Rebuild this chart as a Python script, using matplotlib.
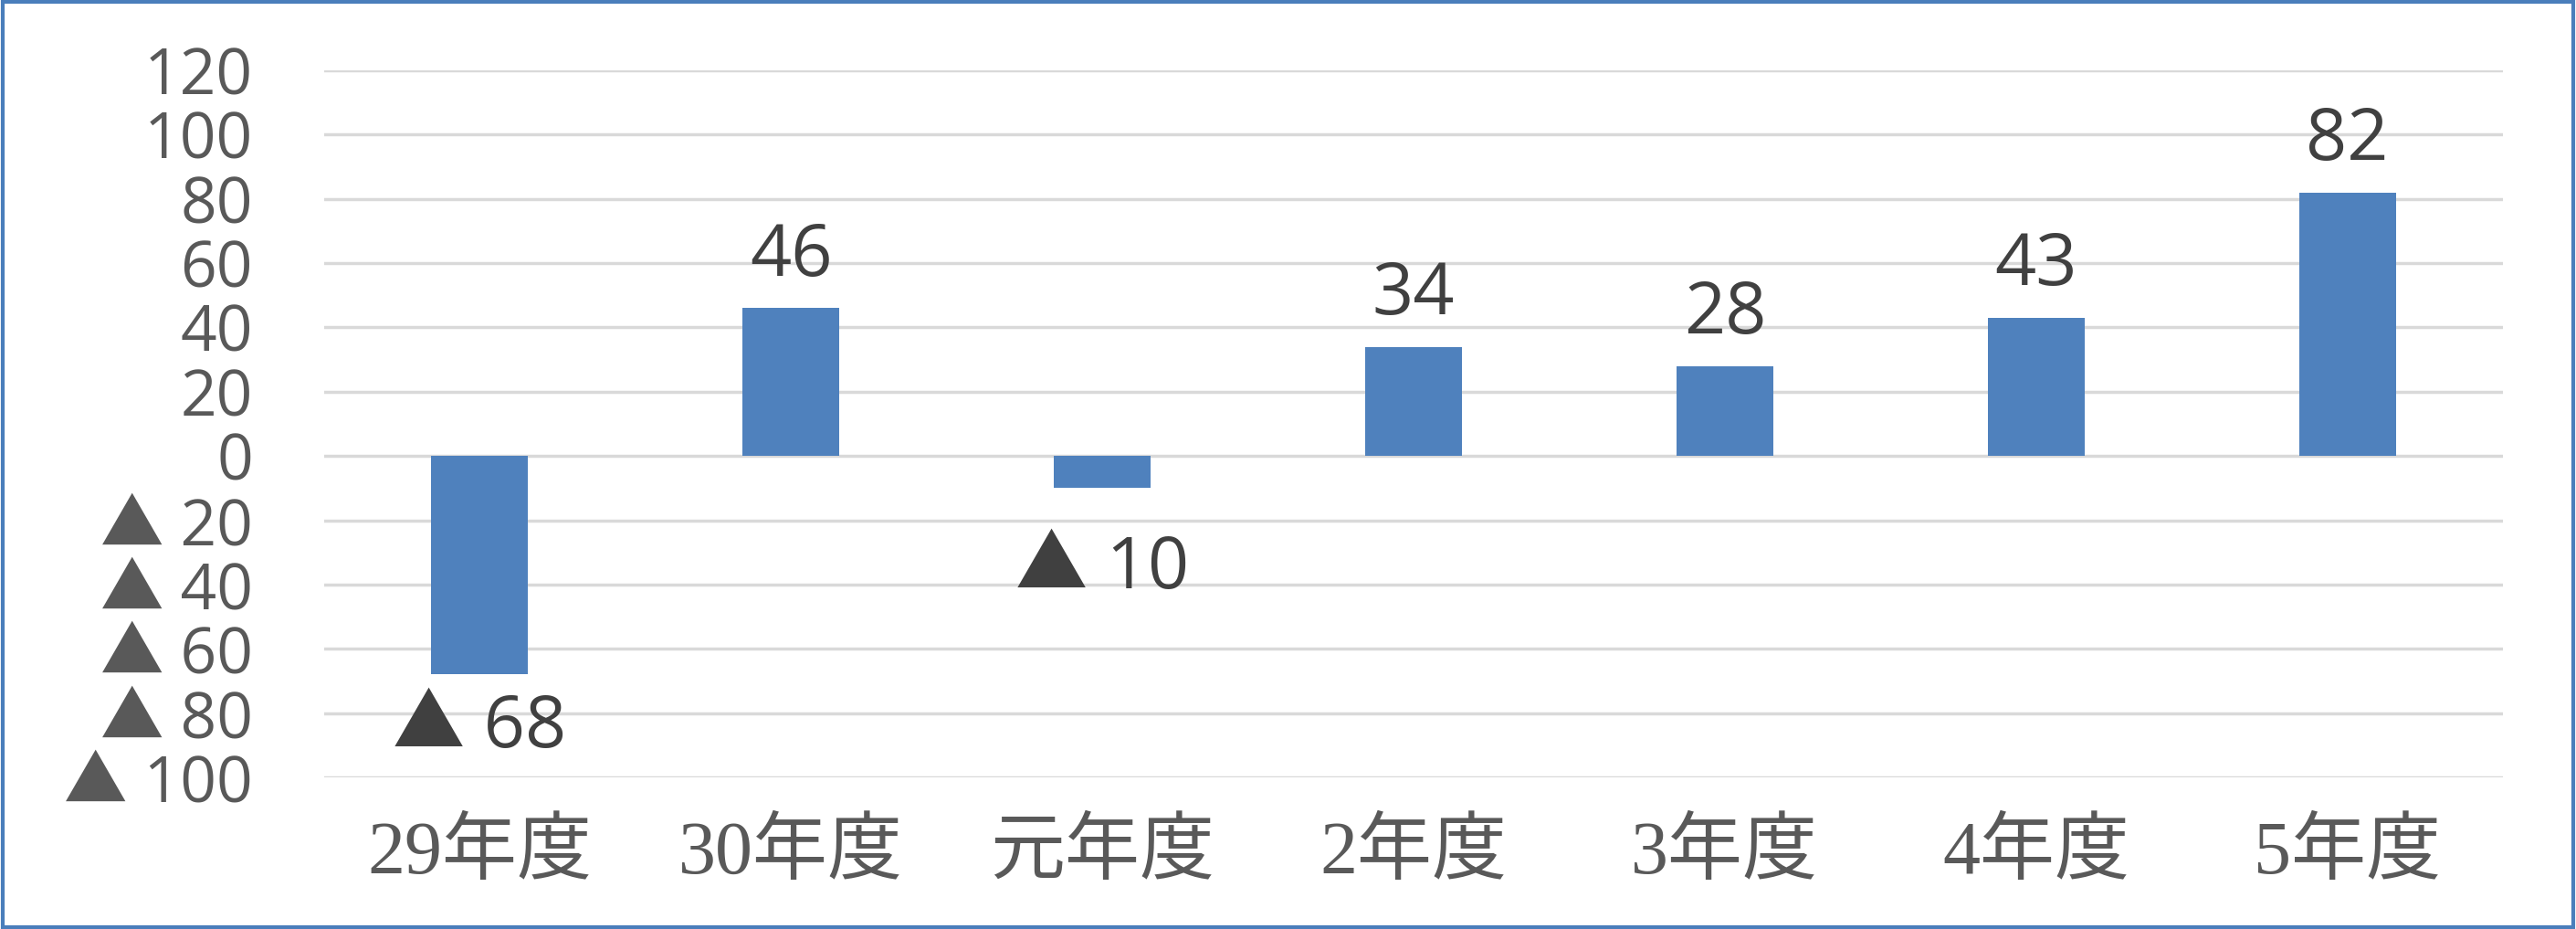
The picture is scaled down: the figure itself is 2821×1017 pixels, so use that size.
import matplotlib
matplotlib.use("Agg")
import matplotlib.pyplot as plt
from matplotlib.ticker import FuncFormatter, MultipleLocator
from matplotlib.patches import Rectangle

# --- data ---------------------------------------------------------------------------------------
years = ["29年度", "30年度", "元年度", "2年度", "3年度", "4年度", "5年度"]
values = [-68, 46, -10, 34, 28, 43, 82]

BAR_COLOUR = "#4f81bd"
TEXT_GREY = "#595959"
LABEL_DARK = "#404040"
NUM_FONT = ["Open Sans", "Noto Sans CJK JP"]   # wide triangle comes from the CJK font
LABEL_OFFSETS = [-14, 12, -36, 12, 12, 12, 12]  # points, data label gap from bar end


def tri_fmt(v, _pos=None):
    # negative numbers shown with a leading triangle, japanese style
    v = int(round(v))
    return f"▲ {abs(v)}" if v < 0 else f"{v}"


fig = plt.figure(figsize=(28.21, 10.17), dpi=100)
ax = fig.add_axes([0.1258, 0.1632, 0.9717 - 0.1258, 0.9243 - 0.1632])

x = range(len(years))
ax.bar(x, values, width=0.31, color=BAR_COLOUR, zorder=3)

ax.set_ylim(-100, 120)
ax.set_xlim(-0.5, len(years) - 0.5)
ax.yaxis.set_major_locator(MultipleLocator(20))
ax.yaxis.set_major_formatter(FuncFormatter(tri_fmt))
ax.grid(axis="y", color="#d9d9d9", linewidth=2.5, zorder=0)
ax.set_axisbelow(True)
for s in ax.spines.values():
    s.set_visible(False)
ax.tick_params(axis="y", length=0, pad=56, labelsize=50, labelcolor=TEXT_GREY)
ax.tick_params(axis="x", length=0, pad=34)
for t in ax.get_yticklabels():
    t.set_family(NUM_FONT)
ax.set_xticks(list(x))
ax.set_xticklabels(years, fontsize=59, color=TEXT_GREY,
                   family=["Liberation Serif", "Noto Sans CJK JP"])

# data labels
for i, v, off in zip(x, values, LABEL_OFFSETS):
    ax.annotate(tri_fmt(v), (i, v), xytext=(0, off), textcoords="offset points",
                ha="center", va="bottom" if v >= 0 else "top",
                fontsize=57, color=LABEL_DARK, family=NUM_FONT)

# chart border
fig.patches.append(Rectangle((0.001, 0.002), 0.998, 0.996, transform=fig.transFigure,
                             fill=False, edgecolor="#4a7ebb", linewidth=3))

fig.savefig("out.png", dpi=100, facecolor="white")
